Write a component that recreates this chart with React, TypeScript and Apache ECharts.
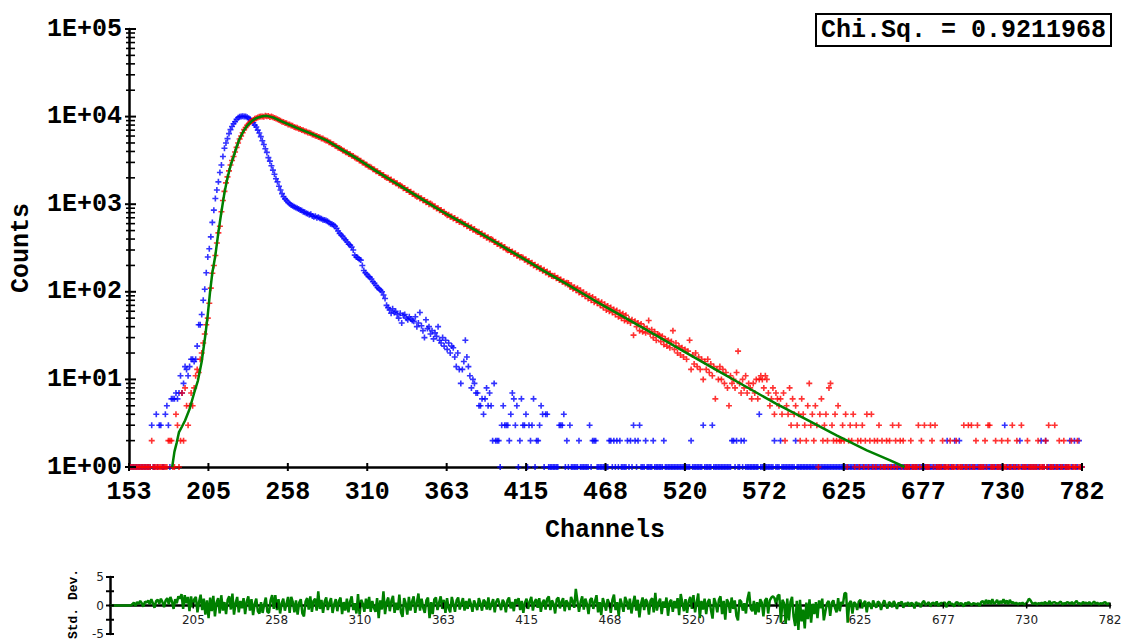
import React, { useEffect, useRef } from "react";
import * as echarts from "echarts";

// ---------------- data ----------------
const CHANNEL_MIN = 153;
const CHANNEL_MAX = 782;
const X_TICK_LABELS = [153, 205, 258, 310, 363, 415, 468, 520, 572, 625, 677, 730, 782];
const Y_TICK_VALUES = [1, 10, 100, 1000, 10000, 100000];
const Y_TICK_LABELS = ["1E+00", "1E+01", "1E+02", "1E+03", "1E+04", "1E+05"];
const RESID_TICK_VALUES = [-5, 0, 5];
const RESID_MINOR_TICKS = [-5, -2.5, 0, 2.5, 5];
const CHI_SQ_TEXT = "Chi.Sq. = 0.9211968";

// Instrument response (blue), one value per channel starting at 153
const IRF_COUNTS = [
  0, 0, 0, 0, 0, 0, 0, 0, 0, 0,
  0, 0, 0, 0, 0, 3, 0, 0, 4, 0,
  3, 3, 0, 0, 4, 5, 3, 0, 6, 6,
  6, 7, 6, 7, 11, 7, 9, 14, 13, 11,
  14, 17, 17, 16, 17, 24, 42, 42, 55, 80,
  107, 165, 250, 310, 424, 620, 855, 1160, 1450, 1800,
  2300, 2800, 3500, 4360, 5000, 5600, 6400, 7100, 7700, 8300,
  8750, 9300, 9700, 9950, 10050, 10100, 10050, 10000, 9850, 9600,
  9300, 8900, 8500, 8000, 7600, 7000, 6500, 5900, 5300, 4800,
  4300, 3900, 3400, 3100, 2750, 2450, 2200, 1950, 1800, 1600,
  1450, 1320, 1220, 1150, 1100, 1050, 1010, 980, 960, 935,
  915, 900, 880, 860, 850, 820, 810, 790, 780, 760,
  770, 735, 720, 730, 700, 710, 690, 680, 665, 660,
  650, 640, 620, 600, 590, 580, 560, 530, 495, 465,
  445, 430, 405, 390, 370, 350, 340, 325, 300, 262,
  250, 245, 235, 230, 200, 175, 165, 158, 150, 146,
  140, 130, 125, 118, 112, 108, 104, 100, 92, 84,
  70, 66, 62, 57, 64, 58, 60, 55, 50, 57,
  44, 54, 55, 50, 48, 52, 49, 47, 46, 52,
  40, 44, 58, 41, 36, 30, 48, 38, 40, 33,
  36, 29, 34, 31, 40, 28, 26, 30, 24, 28,
  22, 26, 20, 24, 23, 18, 14, 20, 13, 9,
  13, 16, 28, 18, 14, 11, 8, 10, 9, 7,
  7, 5, 5, 6, 4, 6, 8, 5, 7, 5,
  2, 9, 2, 2, 2, 0, 3, 5, 3, 3,
  3, 2, 4, 7, 6, 3, 5, 0, 2, 6,
  3, 3, 4, 0, 3, 2, 3, 6, 0, 2,
  2, 3, 5, 4, 0, 4, 4, 0, 0, 0,
  0, 0, 0, 0, 3, 3, 3, 4, 0, 2,
  0, 3, 0, 0, 0, 0, 0, 2, 0, 0,
  0, 0, 0, 0, 3, 0, 2, 2, 2, 0,
  0, 0, 0, 0, 0, 0, 0, 2, 2, 0,
  2, 0, 2, 0, 2, 0, 0, 0, 0, 2,
  0, 2, 0, 3, 2, 0, 2, 3, 0, 0,
  0, 2, 0, 0, 0, 0, 2, 0, 0, 0,
  0, 0, 0, 2, 0, 0, 0, 0, 0, 0,
  0, 0, 0, 0, 0, 0, 0, 0, 0, 0,
  0, 2, 0, 0, 0, 0, 0, 0, 0, 3,
  0, 0, 0, 0, 0, 3, 0, 0, 0, 0,
  0, 0, 0, 0, 0, 0, 0, 0, 2, 2,
  0, 2, 0, 0, 2, 0, 2, 0, 0, 0,
  0, 0, 0, 0, 0, 0, 4, 0, 0, 0,
  0, 0, 0, 0, 0, 0, 2, 0, 0, 0,
  2, 0, 0, 0, 0, 0, 0, 0, 0, 0,
  2, 0, 0, 0, 0, 0, 0, 0, 0, 0,
  0, 0, 0, 0, 0, 0, 0, 0, 0, 0,
  0, 0, 0, 0, 0, 0, 0, 0, 0, 0,
  0, 0, 0, 0, 0, 0, 0, 0, 0, 0,
  0, 0, 0, 0, 0, 0, 0, 0, 0, 0,
  0, 0, 0, 0, 0, 0, 0, 0, 0, 0,
  0, 0, 0, 0, 0, 0, 0, 0, 0, 0,
  0, 0, 0, 0, 0, 0, 0, 0, 0, 0,
  0, 0, 0, 0, 0, 0, 0, 0, 0, 0,
  0, 0, 0, 0, 0, 0, 0, 0, 0, 0,
  2, 0, 0, 0, 0, 2, 0, 0, 2, 0,
  0, 0, 0, 0, 0, 0, 0, 0, 0, 0,
  0, 0, 0, 0, 0, 0, 0, 0, 0, 0,
  0, 0, 0, 0, 0, 0, 0, 0, 3, 0,
  0, 0, 0, 0, 0, 0, 0, 0, 2, 0,
  0, 0, 0, 0, 0, 0, 0, 0, 0, 0,
  0, 0, 2, 0, 0, 2, 0, 0, 0, 0,
  0, 0, 0, 0, 0, 0, 0, 0, 0, 0,
  0, 2, 0, 0, 2, 0, 0, 2, 0, 0,
];

// Sample decay (red), one value per channel starting at 153
const DECAY_COUNTS = [
  0, 0, 0, 0, 0, 0, 0, 0, 0, 0,
  0, 0, 0, 0, 0, 2, 0, 0, 0, 0,
  0, 0, 0, 0, 0, 0, 2, 2, 2, 0,
  0, 4, 3, 0, 2, 7, 2, 8, 5, 3,
  5, 7, 5, 8, 11, 13, 12, 17, 20, 26,
  33, 42, 50, 74, 110, 163, 200, 260, 360, 470,
  560, 820, 1100, 1400, 1750, 2050, 2400, 2800, 3150, 3500,
  3950, 4450, 5000, 5550, 6000, 6550, 7100, 7500, 7950, 8300,
  8650, 8900, 9150, 9450, 9600, 9750, 9950, 10000, 10050, 9950,
  10200, 10100, 10150, 9900, 10000, 9800, 9650, 9500, 9350, 9150,
  8950, 8720, 8700, 8450, 8400, 8150, 8120, 7900, 7850, 7620,
  7500, 7460, 7250, 7230, 7020, 6990, 6800, 6780, 6580, 6560,
  6450, 6250, 6200, 6030, 6010, 5850, 5820, 5640, 5610, 5450,
  5350, 5310, 5100, 5060, 4880, 4820, 4640, 4600, 4420, 4380,
  4280, 4100, 4080, 3920, 3900, 3740, 3720, 3570, 3540, 3410,
  3330, 3300, 3150, 3130, 2990, 2980, 2840, 2820, 2690, 2670,
  2630, 2510, 2490, 2380, 2370, 2270, 2260, 2160, 2150, 2050,
  2000, 2000, 1900, 1910, 1810, 1820, 1730, 1730, 1640, 1650,
  1600, 1520, 1530, 1450, 1460, 1380, 1390, 1310, 1320, 1250,
  1220, 1230, 1160, 1170, 1110, 1120, 1050, 1070, 1000, 1020,
  990, 940, 945, 895, 900, 855, 860, 815, 820, 780,
  750, 760, 720, 725, 685, 695, 655, 665, 625, 635,
  620, 590, 595, 560, 570, 535, 545, 510, 520, 490,
  480, 485, 455, 462, 435, 440, 415, 420, 395, 400,
  392, 370, 372, 352, 355, 336, 340, 320, 324, 305,
  298, 302, 284, 288, 271, 275, 258, 262, 246, 250,
  246, 232, 235, 220, 225, 210, 214, 200, 204, 191,
  195, 183, 186, 174, 178, 166, 170, 158, 162, 151,
  150, 152, 143, 145, 136, 138, 130, 132, 124, 127,
  126, 114, 119, 108, 113, 104, 110, 98, 104, 94,
  99, 89, 94, 84, 90, 80, 87, 76, 82, 74,
  78, 70, 76, 66, 72, 62, 69, 60, 66, 58,
  63, 55, 61, 52, 58, 50, 56, 47, 54, 46,
  49, 44, 48, 32, 46, 40, 44, 36, 43, 35,
  40, 34, 38, 47, 33, 37, 30, 35, 28, 33,
  32, 27, 31, 25, 29, 24, 28, 23, 27, 36,
  22, 26, 20, 24, 19, 23, 18, 22, 17, 21,
  28, 13, 19, 15, 20, 14, 18, 13, 17, 10,
  16, 13, 17, 12, 15, 11, 14, 6, 13, 10,
  14, 10, 13, 9, 12, 8, 5, 11, 9, 10,
  8, 12, 21, 9, 7, 10, 8, 11, 7, 9,
  8, 6, 9, 7, 10, 6, 10, 11, 10, 8,
  11, 10, 7, 5, 6, 8, 4, 7, 6, 5,
  6, 4, 7, 2, 5, 4, 8, 3, 6, 4,
  5, 3, 4, 2, 6, 4, 3, 2, 5, 9,
  3, 4, 2, 5, 3, 1, 4, 6, 2, 3,
  4, 2, 8, 9, 3, 2, 4, 2, 5, 2,
  2, 3, 2, 4, 1, 2, 3, 2, 4, 1,
  3, 2, 1, 2, 3, 1, 2, 4, 1, 2,
  4, 1, 2, 0, 2, 3, 1, 2, 0, 1,
  2, 0, 2, 1, 3, 0, 2, 1, 3, 2,
  1, 2, 0, 1, 1, 0, 2, 0, 1, 0,
  0, 3, 0, 2, 1, 3, 0, 0, 1, 3,
  2, 0, 3, 1, 0, 0, 1, 2, 0, 1,
  0, 1, 2, 1, 0, 0, 2, 0, 1, 0,
  1, 3, 1, 0, 3, 0, 3, 0, 1, 2,
  3, 0, 1, 1, 0, 2, 0, 3, 3, 1,
  0, 1, 2, 0, 0, 1, 2, 0, 1, 0,
  2, 0, 1, 3, 0, 0, 2, 0, 1, 3,
  1, 0, 1, 2, 0, 1, 0, 0, 1, 0,
  2, 0, 1, 0, 1, 2, 0, 3, 1, 0,
  0, 3, 1, 0, 2, 0, 1, 2, 0, 1,
  0, 1, 2, 0, 0, 1, 2, 0, 1, 0,
];

// Fitted curve (green)
const FIT_CHANNELS = [
  181.5, 183, 184.5, 186, 188, 190, 193, 196, 198.5, 201, 203.5, 205, 206.5, 208, 210,
  212, 214, 216, 218, 220, 222, 224, 226, 228.5, 231, 234, 237, 241, 244, 248, 252,
  256, 265, 274, 283, 294, 305, 316, 327, 338, 349, 360, 371, 382, 393, 404, 415, 427,
  440, 460, 480, 500, 520, 540, 560, 580, 600, 620, 640, 655, 665,
];
const FIT_COUNTS = [
  1, 1.5, 1.9, 2.5, 2.9, 3.4, 4.6, 7, 9.7, 16, 33, 55, 100, 165, 260,
  480, 820, 1350, 2000, 2750, 3500, 4500, 5600, 6800, 7900, 8900, 9600, 10100, 10200, 9800, 9100,
  8500, 7300, 6300, 5400, 4150, 3200, 2400, 1830, 1400, 1070, 820, 640, 500, 385, 297, 230, 172,
  128, 80, 51, 32.5, 20.5, 13, 8.3, 5.3, 3.5, 2.3, 1.55, 1.2, 1,
];

// Weighted residuals (std. dev.), one value per channel starting at 153
const RESIDUALS = [
  0, 0, 0, 0, 0, 0, 0, 0, 0, 0, 0, 0, 0, 0,
  0.2, 0.5, -0.1, 0.6, 0.3, 0.8, 0.4, -0.2, 0.7, 0.5,
  0.9, 0.2, 1.1, 0.4, -0.4, 0.8, 1.0, 0.3, 1.2, 0.6,
  -0.3, 0.9, 1.3, 0.2, 1.5, 0.7, -0.6, 1.1, 0.4, 1.6,
  1.2, 2.0, -0.6, 1.8, 0.4, 1.5, -1.0, 1.6, -0.3, 1.1,
  1.5, -1.2, 0.6, 1.9, -0.8, 1.2, -1.6, 0.9, -2.2, 1.4,
  -1.0, 1.7, -1.9, 0.5, 1.3, -1.4, 1.8, -0.9, 0.6, -1.5,
  1.0, 1.6, -0.7, 2.1, -1.6, 0.4, 1.5, -1.2, 0.8, -0.5,
  1.3, -1.5, 0.7, 1.6, -0.9, 1.1, -1.7, 0.3, 1.2, -1.0,
  -1.4, 0.6, -1.3, 0.2, 1.4, -1.1, -1.3, 0.9, 1.8, -0.6,
  1.8, -0.8, 1.1, -1.4, 0.4, 1.2, -0.9, 0.3, 1.5, -1.3,
  1.5, 0.6, -1.2, 0.9, -1.6, 0.5, 1.1, -1.4, -1.9, 0.7,
  1.3, -0.7, 1.6, -1.1, 0.8, 1.2, -0.9, 2.5, -0.6, 1.0,
  -1.3, 0.7, 1.4, -0.8, 0.5, 1.3, -1.3, 0.2, 1.1, -1.0,
  0.8, 1.4, -1.5, 0.6, -0.9, 1.2, -1.2, 0.7, 1.6, -0.8,
  0.4, -1.4, 2.0, -1.6, 1.0, 0.3, -1.1, 1.2, -0.6, 1.5,
  -1.1, 0.8, -0.4, -1.1, 1.3, -2.2, 0.9, -0.7, 2.5, -1.5,
  0.6, 1.4, -1.0, 0.8, 1.7, -1.3, 0.5, -0.8, 1.9, -1.2,
  -2.0, 1.3, 0.4, -1.6, 1.5, -0.9, 0.7, 1.6, -1.3, 0.5,
  2.1, -0.9, 1.2, -0.4, -1.3, 0.9, 1.4, -2.2, 0.6, -1.5,
  1.1, 1.4, -0.8, 0.5, 1.6, -0.6, 1.0, -1.3, 1.3, -0.5,
  -1.2, 1.5, 0.3, -1.1, 0.9, 1.4, -0.7, 0.4, 1.3, -0.9,
  0.8, -0.6, 1.2, 0.3, -1.1, 0.9, 0.2, -0.8, 1.3, 0.4,
  -0.9, 1.0, 0.6, -0.7, 1.4, -0.8, 0.3, 1.1, -1.2, 0.7,
  1.2, 0.2, -0.8, 1.0, 0.5, -1.2, 0.9, 1.4, -0.5, 0.6,
  -1.0, 1.1, 0.3, 1.3, -0.8, 0.8, -1.3, 0.5, 1.2, -0.6,
  0.7, 1.5, -0.9, 0.6, 1.1, -0.4, 1.3, -1.1, 0.5, 1.0,
  -0.7, 1.2, 1.6, -0.8, 0.9, 0.3, -1.4, 1.1, 1.4, -0.5,
  0.6, 1.3, -1.0, 0.9, 0.4, -0.8, 1.5, 0.7, -0.4, 2.9,
  0.8, -1.1, 0.6, 1.6, -0.7, 1.2, 0.3, -1.5, 1.0, 1.3,
  -0.6, 0.7, 1.8, -1.2, 0.6, -1.7, 1.3, 0.3, -0.9, 1.1,
  0.4, -1.3, 1.0, 1.9, -0.8, 0.6, -1.8, 1.2, 0.2, -1.1,
  1.5, 0.7, -0.7, 1.2, -1.4, 0.4, 1.7, -0.9, 1.0, -2.1,
  0.3, 1.4, -0.8, 1.1, 0.6, -1.6, 0.9, 1.3, -1.2, 2.2,
  -0.9, 0.5, 1.2, -1.5, 0.7, -0.4, 1.4, -1.8, 0.6, 1.0,
  -1.1, 0.8, -0.5, 1.3, -1.7, 2.0, 0.5, -1.0, 1.1, -1.3,
  0.7, 1.5, -0.6, 1.8, -1.2, 0.5, 2.1, -2.2, 0.8, -0.7,
  1.2, -1.5, 0.6, 1.1, -0.8, -2.3, 1.3, 0.4, -1.2, 1.0,
  1.6, -1.5, 0.8, -2.5, 1.1, 0.5, -1.3, 1.4, -0.6, 0.9,
  -1.8, -2.6, 1.0, 0.7, -0.9, 0.4, -1.4, 1.2, 2.4, -0.5,
  -1.0, 0.8, -1.6, 0.6, -1.2, 1.1, 0.5, -1.9, 0.9, 1.3,
  -1.4, 0.9, 1.4, 1.6, 1.3, 0.2, 1.7, 1.9, -3.0, 1.0,
  0.4, -3.2, 1.2, -2.6, 0.6, 1.5, -2.0, -3.6, 0.8, -4.3,
  1.0, -2.8, -0.7, -4.0, 0.5, -2.4, 1.1, -3.0, 0.3, -1.5,
  0.6, -2.2, 0.9, -0.5, 1.2, -2.6, -1.0, 0.4, 0.8, -1.8,
  0.5, 0.9, -0.4, -1.2, 1.3, -1.0, 0.6, 0.2, 2.1, 2.2,
  -3.0, 0.4, 0.8, -1.4, 0.6, 0.3, -0.8, 0.7, 1.0, -0.5,
  0.4, 0.8, -1.2, 0.6, 0.3, -0.6, 0.9, 0.2, -0.4, 0.7,
  0.5, -0.8, 0.3, 0.9, 0.1, -0.5, 0.6, 0.4, -0.3, 0.8,
  0.2, -0.6, 0.5, 0.3, 0.7, -0.4, 0.4, 0.1, 0.6, -0.2,
  0.5, 0.3, -0.5, 0.6, 0.2, 0.4, -0.3, 0.5, 0.8, 0.1,
  0.3, 0.6, -0.2, 0.4, 0.5, 0.1, 0.7, -0.1, 0.3, 0.5,
  0.2, 0.6, -0.3, 0.4, 0.7, 0.2, 0.3, -0.2, 0.5, 0.6,
  0.1, 0.4, 0.3, -0.2, 0.5, 0.2, 0.6, 0.3, 0.1, 0.4,
  0.3, 0.2, 0.4, -0.1, 0.6, 0.8, 0.2, 1.0, 0.3, 0.9,
  0.2, 1.1, 0.3, 0.5, 1.0, 0.2, 0.8, 0.4, 1.1, 0.3,
  0.9, 0.2, 1.0, 0.4, 0.6, 0.3, 0.5, 0.2, 0.4, 0.3,
  0.5, 0.2, 0.3, 0.6, 1.2, 0.9, 0.4, 0.3, 0.5, 0.2,
  0.4, 0.3, 0.5, 0.2, 0.6, 0.4, 0.3, 0.8, 0.2, 0.5,
  0.6, 0.4, 0.3, 0.5, 0.7, 0.2, 0.4, 0.3, 0.6, 0.5,
  0.3, 0.6, 0.2, 0.5, 0.8, 0.3, 0.4, 0.2, 0.6, 0.4,
  0.5, 0.3, 0.6, 0.2, 0.4, 0.7, 0.3, 0.5, 0.2, 0.4,
  0.3, 0.5, 0.6, 0.2, 0.4, 0.1,
];

// ---------------- styling ----------------
const MONO = '"Liberation Mono", "Courier New", monospace';
const SANS = '"DejaVu Sans", Verdana, sans-serif';
const PLUS = "path://M2.2,0H3.8V2.2H6V3.8H3.8V6H2.2V3.8H0V2.2H2.2Z";

const X_STEP = (CHANNEL_MAX - CHANNEL_MIN) / (X_TICK_LABELS.length - 1);
const X_TICK_POS = X_TICK_LABELS.map((_, i) => CHANNEL_MIN + i * X_STEP);
const xLabel = (v: number) => String(X_TICK_LABELS[Math.round((v - CHANNEL_MIN) / X_STEP)]);
const yLabel = (v: number) => Y_TICK_LABELS[Math.round(Math.log10(v))] ?? "";

// decade + minor (2..9) tick values of the log axis
const Y_MAJOR_TICKS = Y_TICK_VALUES.map((v) => [CHANNEL_MIN, v]);
const Y_MINOR_TICKS: number[][] = [];
for (let d = 0; d < Y_TICK_VALUES.length - 1; d++) {
  for (let m = 2; m <= 9; m++) Y_MINOR_TICKS.push([CHANNEL_MIN, m * Y_TICK_VALUES[d]]);
}

const RESID_GRID_HEIGHT = 57;

function tickSeries(gi: number, data: number[][], dir: "h" | "v", a: number, b: number, w: number) {
  return {
    type: "custom",
    xAxisIndex: gi,
    yAxisIndex: gi,
    data,
    z: 20,
    silent: true,
    clip: false,
    renderItem: (_p: any, api: any) => {
      const p = api.coord([api.value(0), api.value(1)]);
      const shape =
        dir === "h"
          ? { x1: p[0] - a, y1: p[1], x2: p[0] + b, y2: p[1] }
          : { x1: p[0], y1: p[1] - a, x2: p[0], y2: p[1] + b };
      return { type: "line", shape, style: { stroke: "#000", lineWidth: w } };
    },
  };
}

function buildOption() {
  const irf = IRF_COUNTS.map((v, i) => [CHANNEL_MIN + i, Math.max(v, 1)]);
  const decay = DECAY_COUNTS.map((v, i) => [CHANNEL_MIN + i, Math.max(v, 1)]);
  const fit = FIT_CHANNELS.map((c, i) => [c, FIT_COUNTS[i]]);
  const resid = RESIDUALS.map((v, i) => [CHANNEL_MIN + i, v]);

  return {
    animation: false,
    backgroundColor: "#ffffff",
    grid: [
      { left: 129, top: 29, width: 953, height: 438, outerBoundsMode: "none" },
      { left: 110, top: 577, width: 1000, height: RESID_GRID_HEIGHT, outerBoundsMode: "none" },
    ],
    xAxis: [
      {
        type: "value", gridIndex: 0, min: CHANNEL_MIN, max: CHANNEL_MAX,
        splitLine: { show: false }, axisTick: { show: false },
        axisLine: { show: true, onZero: false, lineStyle: { color: "#000", width: 2.5 } },
        axisLabel: {
          customValues: X_TICK_POS, formatter: xLabel, margin: 13,
          color: "#000", fontFamily: MONO, fontWeight: "bold", fontSize: 25,
        },
      },
      {
        type: "value", gridIndex: 1, min: CHANNEL_MIN, max: CHANNEL_MAX,
        position: "bottom", offset: -RESID_GRID_HEIGHT / 2,
        splitLine: { show: false }, axisTick: { show: false },
        axisLine: { show: true, onZero: false, lineStyle: { color: "#000", width: 2.5 } },
        axisLabel: {
          customValues: X_TICK_POS.slice(1), formatter: xLabel, margin: 8,
          color: "#222", fontFamily: SANS, fontSize: 12,
        },
      },
    ],
    yAxis: [
      {
        type: "log", gridIndex: 0, min: 1, max: 100000, logBase: 10,
        splitLine: { show: false }, axisTick: { show: false }, minorTick: { show: false },
        axisLine: { show: true, lineStyle: { color: "#000", width: 2.5 } },
        axisLabel: {
          customValues: Y_TICK_VALUES, formatter: yLabel, margin: 7,
          color: "#000", fontFamily: MONO, fontWeight: "bold", fontSize: 25,
        },
      },
      {
        type: "value", gridIndex: 1, min: -5, max: 5, interval: 2.5,
        splitLine: { show: false }, axisTick: { show: false },
        axisLine: { show: true, onZero: false, lineStyle: { color: "#000", width: 2.5 } },
        axisLabel: {
          customValues: RESID_TICK_VALUES, formatter: (v: number) => String(v), margin: 6,
          color: "#222", fontFamily: SANS, fontSize: 12,
        },
      },
    ],
    series: [
      {
        name: "IRF", type: "scatter", xAxisIndex: 0, yAxisIndex: 0, data: irf, z: 2,
        symbol: PLUS, symbolSize: 6, itemStyle: { color: "#0000ff" }, clip: false, silent: true,
      },
      {
        name: "Decay", type: "scatter", xAxisIndex: 0, yAxisIndex: 0, data: decay, z: 3,
        symbol: PLUS, symbolSize: 6, itemStyle: { color: "#ff0000" }, clip: false, silent: true,
      },
      {
        name: "Fit", type: "line", xAxisIndex: 0, yAxisIndex: 0, data: fit, z: 4,
        showSymbol: false, symbol: "none", lineStyle: { color: "#008000", width: 2.5 }, silent: true,
      },
      {
        name: "Residuals", type: "line", xAxisIndex: 1, yAxisIndex: 1, data: resid, z: 4,
        showSymbol: false, symbol: "none", lineStyle: { color: "#008000", width: 2.5 }, silent: true,
      },
      tickSeries(0, Y_MAJOR_TICKS, "h", 4, 7, 2),
      tickSeries(0, Y_MINOR_TICKS, "h", 3, 6, 1.6),
      tickSeries(0, X_TICK_POS.map((x) => [x, 1]), "v", 4, 4, 2),
      tickSeries(1, RESID_MINOR_TICKS.map((v) => [CHANNEL_MIN, v]), "h", 4, 4, 2),
      tickSeries(1, X_TICK_POS.slice(1).map((x) => [x, 0]), "v", 3, 3, 1.5),
    ],
    graphic: {
      elements: [
        {
          type: "text", x: 21, y: 248, rotation: Math.PI / 2,
          style: { text: "Counts", font: `bold 25px ${MONO}`, fill: "#000", align: "center", verticalAlign: "middle" },
        },
        {
          type: "text", x: 605, y: 530,
          style: { text: "Channels", font: `bold 25px ${MONO}`, fill: "#000", align: "center", verticalAlign: "middle" },
        },
        {
          type: "text", x: 73, y: 604, rotation: Math.PI / 2,
          style: { text: "Std. Dev.", font: `bold 13px ${MONO}`, fill: "#000", align: "center", verticalAlign: "middle" },
        },
        {
          type: "rect", shape: { x: 816, y: 14, width: 295, height: 32 },
          style: { fill: "#fff", stroke: "#000", lineWidth: 2 }, z: 30,
        },
        {
          type: "text", x: 963.5, y: 30, z: 31,
          style: { text: CHI_SQ_TEXT, font: `bold 25px ${MONO}`, fill: "#000", align: "center", verticalAlign: "middle" },
        },
      ],
    },
  };
}

export default function App() {
  const ref = useRef<HTMLDivElement>(null);
  useEffect(() => {
    if (!ref.current) return;
    const chart = echarts.init(ref.current, null, { renderer: "svg" });
    chart.setOption(buildOption() as any);
    return () => chart.dispose();
  }, []);
  return (
    <div
      ref={ref}
      style={{ position: "fixed", left: 0, top: 0, width: 1131, height: 642, background: "#fff" }}
    />
  );
}
